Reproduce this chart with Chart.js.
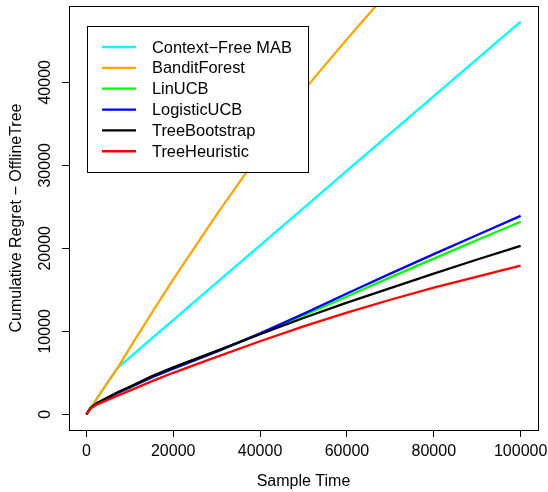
<!DOCTYPE html>
<html>
<head>
<meta charset="utf-8">
<script src="https://cdn.jsdelivr.net/npm/chart.js@4/dist/chart.umd.min.js"></script>
<style>
  html, body { margin: 0; padding: 0; background: #fff; }
  #wrap { width: 548px; height: 492px; }
</style>
</head>
<body>
<div id="wrap"><canvas id="c" width="548" height="492"></canvas></div>
<script>
const sampleTime = [0, 1000, 2500, 5000, 7200, 10000, 15000, 20000, 30000, 40000, 50000, 60000, 70000, 80000, 90000, 100000];
const contextFreeMAB = [0, 780, 1950, 3900, 5600, 6860, 9110, 11360, 15850, 20350, 24850, 29350, 33850, 38340, 42820, 47300];
const banditForest   = [0, 780, 1950, 3900, 5600, 8000, 12150, 16250, 24050, 31500, 39000, 45200, 51200, 57200, 63100, 69000];
const linUCB         = [0, 800, 1360, 2050, 2600, 3230, 4450, 5500, 7550, 9700, 11900, 14200, 16500, 18750, 21000, 23200];
const logisticUCB    = [0, 760, 1320, 2000, 2580, 3220, 4450, 5500, 7550, 9750, 12100, 14550, 16950, 19300, 21600, 23900];
const treeBootstrap  = [0, 780, 1350, 2050, 2650, 3300, 4570, 5650, 7650, 9650, 11600, 13450, 15200, 16950, 18650, 20300];
const treeHeuristic  = [0, 720, 1200, 1750, 2250, 2850, 3970, 5000, 6920, 8800, 10600, 12250, 13800, 15250, 16600, 17900];

const seriesNames  = ['Context\u2212Free MAB', 'BanditForest', 'LinUCB', 'LogisticUCB', 'TreeBootstrap', 'TreeHeuristic'];
const seriesValues = [contextFreeMAB, banditForest, linUCB, logisticUCB, treeBootstrap, treeHeuristic];
const seriesColors = ['#00FFFF', '#FFA500', '#00FF00', '#0000FF', '#000000', '#FF0000'];

const xTicks = [0, 20000, 40000, 60000, 80000, 100000];
const yTicks = [0, 10000, 20000, 30000, 40000];
const xRange = [-4000, 104000];
const yRange = [-1892, 49192];

const FONT = '"Liberation Sans", Arial, Helvetica, sans-serif';

const datasets = seriesValues.map((vals, i) => ({
  label: seriesNames[i],
  data: sampleTime.map((t, j) => ({ x: t, y: vals[j] })),
  borderColor: seriesColors[i],
  backgroundColor: seriesColors[i],
  borderWidth: 2.3,
  pointRadius: 0,
  tension: 0,
  fill: false,
  clip: 0,
  order: seriesValues.length - 1 - i
}));

const boxAndLegend = {
  id: 'boxAndLegend',
  afterDraw(chart) {
    const ctx = chart.ctx;
    const a = chart.chartArea;
    ctx.save();
    ctx.strokeStyle = '#000';
    ctx.lineWidth = 1;
    ctx.strokeRect(Math.round(a.left) + 0.5, Math.round(a.top) + 0.5, Math.round(a.right - a.left), Math.round(a.bottom - a.top));
    // legend
    const lx = a.left + 18, ly = a.top + 19.5, lw = 221, lh = 146;
    ctx.fillStyle = '#fff';
    ctx.fillRect(lx, ly, lw, lh);
    ctx.strokeRect(Math.round(lx) + 0.5, Math.round(ly) + 0.5, lw, lh);
    ctx.font = '16.4px ' + FONT;
    ctx.textBaseline = 'middle';
    ctx.textAlign = 'left';
    chart.data.datasets.forEach((ds, i) => {
      const y = ly + 21.5 + i * 20.85;
      ctx.strokeStyle = ds.borderColor;
      ctx.lineWidth = 2.3;
      ctx.beginPath();
      ctx.moveTo(lx + 15, y);
      ctx.lineTo(lx + 49, y);
      ctx.stroke();
      ctx.fillStyle = '#000';
      ctx.fillText(ds.label, lx + 65, y + 1);
    });
    ctx.restore();
  }
};

new Chart(document.getElementById('c'), {
  type: 'line',
  data: { datasets },
  options: {
    responsive: false,
    animation: false,
    devicePixelRatio: 1,
    layout: { padding: { left: 0, right: 10, top: 6, bottom: 0 } },
    plugins: { legend: { display: false }, tooltip: { enabled: false } },
    scales: {
      x: {
        type: 'linear',
        min: xRange[0], max: xRange[1],
        afterBuildTicks: s => { s.ticks = xTicks.map(v => ({ value: v })); },
        afterFit: s => { s.height = 62; s.paddingLeft = 0; s.paddingRight = 0; },
        grid: { drawOnChartArea: false, drawTicks: true, tickLength: 7, tickColor: '#000', tickWidth: 1 },
        border: { display: false },
        ticks: {
          color: '#000', padding: 5, maxRotation: 0, autoSkip: false,
          font: { family: FONT, size: 16 },
          callback: v => String(v)
        },
        title: {
          display: true, text: 'Sample Time', color: '#000',
          font: { family: FONT, size: 16 }, padding: { top: 0, bottom: 0.5 }
        }
      },
      y: {
        type: 'linear',
        min: yRange[0], max: yRange[1],
        afterBuildTicks: s => { s.ticks = yTicks.map(v => ({ value: v })); },
        afterFit: s => { s.width = 69; s.paddingTop = 0; s.paddingBottom = 0; },
        grid: { drawOnChartArea: false, drawTicks: true, tickLength: 7, tickColor: '#000', tickWidth: 1 },
        border: { display: false },
        ticks: {
          color: '#000', padding: -6, minRotation: 90, maxRotation: 90, crossAlign: 'center', autoSkip: false,
          font: { family: FONT, size: 16 },
          callback: v => String(v)
        },
        title: {
          display: true, text: 'Cumulative Regret \u2212 OfflineTree', color: '#000',
          font: { family: FONT, size: 16 }, padding: { top: 7, bottom: 0 }
        }
      }
    }
  },
  plugins: [boxAndLegend]
});
</script>
</body>
</html>
